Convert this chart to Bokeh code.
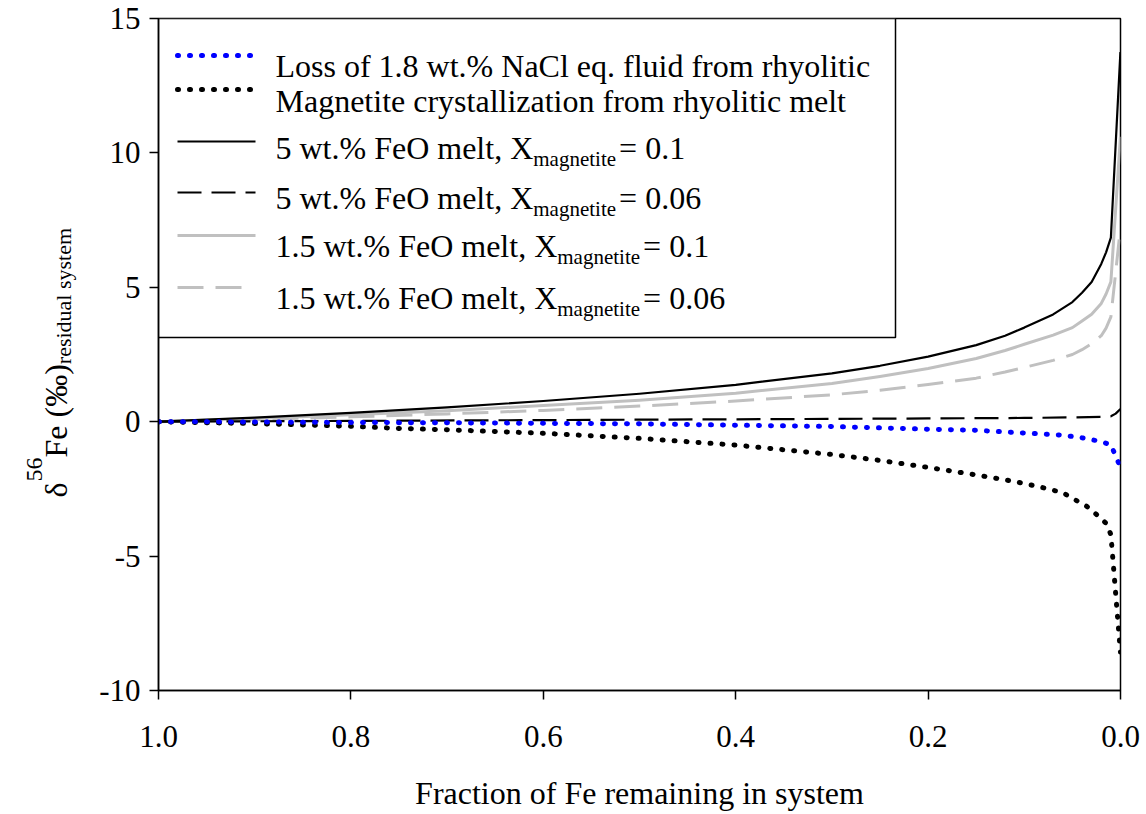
import numpy as np
from bokeh.plotting import figure
from bokeh.layouts import row
from bokeh.models import Range1d, FixedTicker, PrintfTickFormatter, Label
from bokeh.embed import file_html
from bokeh.resources import INLINE

# ---------------- data ----------------
f_loss = [1.0, 0.9, 0.8, 0.7, 0.6, 0.5, 0.4, 0.3, 0.2, 0.15, 0.1, 0.06, 0.04, 0.02, 0.01, 0.0001]
d_loss = [0.0, -0.01, -0.03, -0.04, -0.06, -0.08, -0.13, -0.18, -0.28, -0.32, -0.42, -0.5, -0.6, -0.74, -0.86, -1.69]

f_mag = [1.0, 0.9, 0.8, 0.75, 0.7, 0.6, 0.5, 0.4, 0.3, 0.25, 0.2, 0.15, 0.12, 0.1, 0.08, 0.06, 0.05,
         0.035, 0.025, 0.015, 0.01, 0.0001]
d_mag = [0.0, -0.07, -0.17, -0.25, -0.3, -0.43, -0.62, -0.87, -1.22, -1.44, -1.7, -1.98, -2.16, -2.3,
         -2.46, -2.64, -2.85, -3.15, -3.45, -3.78, -4.2, -8.57]

f_melt = [1.0, 0.9, 0.8, 0.7, 0.6, 0.5, 0.4, 0.3, 0.25, 0.2, 0.15, 0.12, 0.1, 0.07, 0.05, 0.04,
          0.03, 0.02, 0.015, 0.01, 0.0001]
d_5_01 = [0.0, 0.15, 0.33, 0.53, 0.77, 1.04, 1.37, 1.8, 2.08, 2.42, 2.85, 3.2, 3.5, 3.99, 4.45, 4.8,
          5.2, 5.87, 6.3, 6.85, 13.75]
d_15_01 = [0.0, 0.12, 0.26, 0.41, 0.6, 0.8, 1.06, 1.42, 1.68, 1.98, 2.35, 2.65, 2.88, 3.22, 3.5, 3.75,
           4.0, 4.4, 4.75, 5.2, 10.6]
d_15_006 = [0.0, 0.08, 0.18, 0.29, 0.42, 0.58, 0.77, 1.0, 1.17, 1.38, 1.62, 1.85, 2.02, 2.28, 2.5, 2.68,
            2.9, 3.2, 3.48, 3.9, 7.2]

f_5_006 = [1.0, 0.8, 0.6, 0.4, 0.2, 0.1, 0.05, 0.02, 0.01, 0.005, 0.0001]
d_5_006 = [0.0, 0.03, 0.06, 0.09, 0.12, 0.14, 0.16, 0.18, 0.2, 0.3, 0.47]

x_ticks = [1.0, 0.8, 0.6, 0.4, 0.2, 0.0]
y_ticks = [-10, -5, 0, 5, 10, 15]

legend_main = ["Loss of 1.8 wt.% NaCl eq. fluid from rhyolitic",
               "Magnetite crystallization from rhyolitic melt",
               "5 wt.% FeO melt, X", "5 wt.% FeO melt, X",
               "1.5 wt.% FeO melt, X", "1.5 wt.% FeO melt, X"]
legend_sub = ["", "", "magnetite", "magnetite", "magnetite", "magnetite"]
legend_tail = ["", "", "= 0.1", "= 0.06", "= 0.1", "= 0.06"]

ylabel_parts = ["δ", "56", "Fe (‰)", "residual system"]

# ---------------- layout ----------------
W, H = 1146, 814
LW = 90                       # width of the strip holding the y-axis title
FL, FR, FT, FB = 158, 1120, 18, 690   # frame in page pixels
XMAX, XMIN, YMIN, YMAX = 1.0, 0.0, -10.0, 15.0
FONT = "Liberation Serif"

def dx(px):
    return XMAX - (px - FL) * (XMAX - XMIN) / (FR - FL)

def dy(py):
    return YMAX - (py - FT) * (YMAX - YMIN) / (FB - FT)

# Times / Liberation Serif advance widths (em)
CW = {' ': .25, '%': .833, ',': .25, '.': .25, '=': .564, 'F': .556, 'O': .722, 'X': .722,
      'a': .444, 'e': .444, 'g': .5, 'i': .278, 'l': .278, 'm': .778, 'n': .5, 't': .278,
      'w': .722, 'δ': .5, '(': .333, ')': .333, '‰': 1.0, 'r': .333, 's': .389, 'd': .5,
      'u': .5, 'y': .5}
def tw(s, size):
    return sum(CW.get(c, .5) for c in s) * size

p = figure(width=W - LW, height=H, x_range=Range1d(XMAX, XMIN), y_range=Range1d(YMIN, YMAX),
           output_backend="svg", toolbar_location=None,
           min_border_left=FL - LW, min_border_right=W - FR, min_border_top=FT,
           min_border_bottom=H - FB)
p.background_fill_color = "white"
p.border_fill_color = "white"
p.outline_line_color = "black"
p.outline_line_width = 1.5
p.xgrid.visible = False
p.ygrid.visible = False

for ax in (p.xaxis[0], p.yaxis[0]):
    ax.axis_line_color = "black"
    ax.axis_line_width = 1.5
    ax.major_tick_line_color = "black"
    ax.major_tick_line_width = 1.5
    ax.major_tick_out = 9
    ax.major_tick_in = 0
    ax.minor_tick_line_color = None
    ax.major_label_text_font = FONT
    ax.major_label_text_font_size = "31px"
    ax.major_label_text_color = "black"

p.xaxis.ticker = FixedTicker(ticks=x_ticks)
p.xaxis.formatter = PrintfTickFormatter(format="%.1f")
p.xaxis.major_label_standoff = 26
p.xaxis.axis_label = "Fraction of Fe remaining in system"
p.xaxis.axis_label_text_font = FONT
p.xaxis.axis_label_text_font_size = "32px"
p.xaxis.axis_label_text_font_style = "normal"
p.xaxis.axis_label_text_color = "black"
p.xaxis.axis_label_standoff = 25

p.yaxis.ticker = FixedTicker(ticks=y_ticks)
p.yaxis.formatter = PrintfTickFormatter(format="%d")
p.yaxis.major_label_standoff = 9

# legend box (drawn first, under the curves)
LB_R, LB_B = 895, 337
p.quad(left=[dx(FL)], right=[dx(LB_R)], top=[dy(FT)], bottom=[dy(LB_B)],
       fill_color="white", line_color="black", line_width=1.5)

GRAY = "#c0c0c0"
styles = [
    dict(color="blue", width=5, dash="1 11", cap="round"),
    dict(color="black", width=5, dash="1 11", cap="round"),
    dict(color="black", width=2.2, dash="solid", cap="butt"),
    dict(color="black", width=2.2, dash="24 10", cap="butt"),
    dict(color=GRAY, width=3, dash="solid", cap="butt"),
    dict(color=GRAY, width=3, dash="26 12", cap="butt"),
]
curves = [
    (f_melt, d_15_006, 5), (f_melt, d_15_01, 4),
    (f_5_006, d_5_006, 3), (f_melt, d_5_01, 2),
    (f_mag, d_mag, 1), (f_loss, d_loss, 0),
]
for fx, dd, si in curves:
    s = styles[si]
    p.line(fx, dd, line_color=s["color"], line_width=s["width"], line_dash=s["dash"],
           line_cap=s["cap"], line_join="round")

# legend entries
glyph_y = [55, 89, 141, 192, 235, 287]
base_y = [65, 100, 147, 197, 245, 297]
sample_x0 = 177
sample_x1 = [252, 252, 255, 255, 255, 243]
TX = 275
MAIN, SUB = 32, 21
for i in range(6):
    s = styles[i]
    p.line([dx(sample_x0), dx(sample_x1[i])], [dy(glyph_y[i])] * 2, line_color=s["color"],
           line_width=s["width"], line_dash=s["dash"], line_cap=s["cap"])
    p.add_layout(Label(x=dx(TX), y=dy(base_y[i]), text=legend_main[i], text_font=FONT,
                       text_font_size=f"{MAIN}px", text_color="black",
                       text_align="left", text_baseline="alphabetic"))
    if legend_sub[i]:
        xs = TX + tw(legend_main[i], MAIN)
        p.add_layout(Label(x=dx(xs), y=dy(base_y[i] + 11), text=legend_sub[i], text_font=FONT,
                           text_font_size=f"{SUB}px", text_color="black",
                           text_align="left", text_baseline="alphabetic"))
        xt = xs + tw(legend_sub[i], SUB) + 3
        p.add_layout(Label(x=dx(xt), y=dy(base_y[i]), text=legend_tail[i], text_font=FONT,
                       text_font_size=f"{MAIN}px", text_color="black",
                       text_align="left", text_baseline="alphabetic"))

# ---------------- strip with the rotated y-axis title ----------------
# In a row, Bokeh aligns this strip's frame with the main frame (page y FT..FB),
# so its y range is expressed in page pixels over that span.
lf = figure(width=LW, height=H, x_range=Range1d(0, LW), y_range=Range1d(FB, FT),
            output_backend="svg", toolbar_location=None, x_axis_type=None, y_axis_type=None,
            min_border=0, title=None)
lf.outline_line_color = None
lf.xgrid.visible = False
lf.ygrid.visible = False
lf.background_fill_color = "white"
lf.border_fill_color = "white"

YB = 55          # baseline (page x) of main text
ys = 497         # start (page y, bottom end of the title)
part_x = [YB, YB - 21, YB, YB + 8]
part_size = [MAIN, 24, MAIN, 22]
for txt, bx, size in zip(ylabel_parts, part_x, part_size):
    lf.add_layout(Label(x=bx, y=ys, text=txt, angle=np.pi / 2, angle_units="rad",
                        text_font=FONT,
                        text_font_size=f"{size}px", text_color="black",
                        text_align="left", text_baseline="alphabetic"))
    ys -= tw(txt, size)

layout = row(lf, p, spacing=0)
open("out.html", "w").write(file_html(layout, INLINE))
